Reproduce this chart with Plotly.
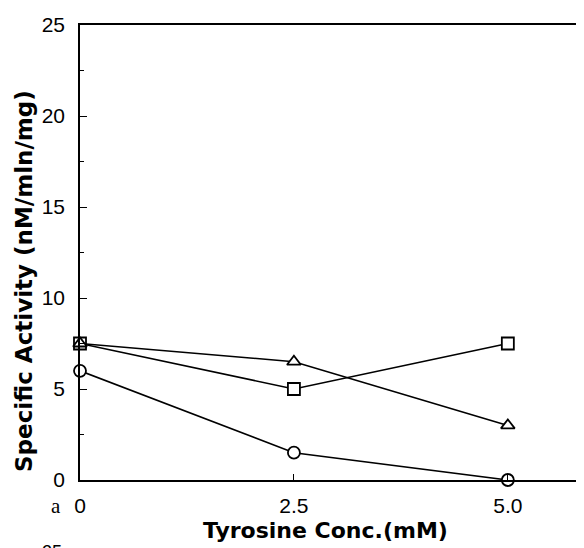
import plotly.graph_objects as go

conc = [0, 2.5, 5.0]
square_vals = [7.5, 5.0, 7.5]
triangle_vals = [7.5, 6.5, 3.0]
circle_vals = [6.0, 1.5, 0.0]

y_ticks = [0, 5, 10, 15, 20, 25]
x_ticks = [0, 2.5, 5.0]
x_tick_text = ["0", "2.5", "5.0"]

fig = go.Figure()
series = [
    (square_vals, "square", 12),
    (triangle_vals, "triangle-up", 12),
    (circle_vals, "circle", 12),
]
for vals, sym, sz in series:
    fig.add_trace(go.Scatter(
        x=conc, y=vals, mode="lines+markers",
        line=dict(color="black", width=1.6),
        marker=dict(symbol=sym, size=sz, color="white",
                    line=dict(color="black", width=1.8)),
        cliponaxis=False, showlegend=False,
    ))

font = "Liberation Sans, Arial, sans-serif"
bold = "DejaVu Sans, sans-serif"
# the page body adds an 8px margin, so the figure is drawn 8px smaller
fig.update_layout(
    width=576, height=540,
    margin=dict(l=72, r=0, t=17, b=68),
    plot_bgcolor="white", paper_bgcolor="white",
    font=dict(family=font, color="black", size=16),
    xaxis=dict(range=[0, 5.89], tickvals=x_ticks, ticktext=x_tick_text,
               showline=True, linecolor="black", linewidth=1.6, mirror=True,
               ticks="inside", ticklen=6, tickwidth=1, tickcolor="black",
               showgrid=False, zeroline=False, tickfont=dict(size=21),
               ticklabelstandoff=6, automargin=False),
    yaxis=dict(range=[0, 25], tickvals=y_ticks,
               showline=True, linecolor="black", linewidth=1.6,
               ticks="inside", ticklen=7, tickwidth=1, tickcolor="black",
               minor=dict(dtick=2.5, ticks="inside", ticklen=4, tickcolor="black", tickwidth=1),
               showgrid=False, zeroline=False, tickfont=dict(size=21),
               ticklabelstandoff=9, automargin=False),
)

fig.add_annotation(text="<b>Tyrosine Conc.(mM)</b>", xref="paper", yref="paper",
                   x=(325 - 80) / 504, y=-50 / 455, showarrow=False,
                   font=dict(size=22, family=bold), xanchor="center", yanchor="middle")
fig.add_annotation(text="<b>Specific Activity (nM/mln/mg)</b>", xref="paper", yref="paper",
                   x=(24 - 80) / 504, y=(480 - 281) / 455, showarrow=False, textangle=-90,
                   font=dict(size=23, family=bold), xanchor="center", yanchor="middle")
fig.add_annotation(text="a", xref="paper", yref="paper",
                   x=(56 - 80) / 504, y=-26 / 455, showarrow=False,
                   font=dict(size=21, family="Liberation Serif, serif"),
                   xanchor="center", yanchor="middle")
fig.add_annotation(text="25", xref="paper", yref="paper",
                   x=(52 - 80) / 504, y=-(540 - 480) / 455, showarrow=False,
                   font=dict(size=18, family=font),
                   xanchor="center", yanchor="top")

fig.write_html("out.html")
